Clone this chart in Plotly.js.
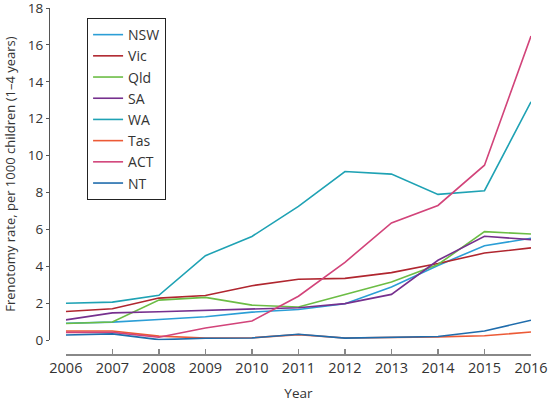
<!DOCTYPE html>
<html>
<head>
<meta charset="utf-8">
<script src="https://cdn.plot.ly/plotly-3.0.1.min.js"></script>
<style>html,body{margin:0;padding:0;background:#fff;}#chart{width:555px;height:402px;}</style>
</head>
<body>
<div id="chart"></div>
<script>
var years = [2006, 2007, 2008, 2009, 2010, 2011, 2012, 2013, 2014, 2015, 2016];
var seriesNames = ["NSW", "Vic", "Qld", "SA", "WA", "Tas", "ACT", "NT"];
var nsw = [0.92, 0.98, 1.12, 1.27, 1.52, 1.66, 1.97, 2.88, 4.05, 5.12, 5.52];
var vic = [1.55, 1.7, 2.28, 2.42, 2.95, 3.3, 3.35, 3.66, 4.15, 4.72, 5.0];
var qld = [0.9, 0.98, 2.17, 2.32, 1.9, 1.8, 2.48, 3.15, 4.1, 5.88, 5.75];
var sa = [1.1, 1.48, 1.54, 1.61, 1.67, 1.76, 1.98, 2.48, 4.33, 5.63, 5.45];
var wa = [2.0, 2.06, 2.43, 4.58, 5.62, 7.25, 9.14, 9.0, 7.9, 8.1, 12.92];
var tas = [0.5, 0.5, 0.22, 0.12, 0.13, 0.3, 0.12, 0.14, 0.18, 0.24, 0.44];
var act = [0.42, 0.42, 0.16, 0.66, 1.04, 2.38, 4.22, 6.35, 7.3, 9.48, 16.48];
var nt = [0.28, 0.34, 0.03, 0.1, 0.12, 0.32, 0.11, 0.14, 0.2, 0.5, 1.08];
var yTicks = [0, 2, 4, 6, 8, 10, 12, 14, 16, 18];
var colors = ["#2b9ed6", "#b0262f", "#6cbd45", "#76308e", "#1fa2b4", "#ec5a36", "#d2447a", "#1f6cac"];
var values = [nsw, vic, qld, sa, wa, tas, act, nt];

var traces = seriesNames.map(function (n, i) {
  return {
    x: years, y: values[i], name: n, type: "scatter", mode: "lines",
    line: {color: colors[i], width: 1.6}
  };
});

var font = "Open Sans, Lato, sans-serif";
var layout = {
  width: 555, height: 402,
  margin: {l: 49, r: 24, t: 8, b: 48},
  paper_bgcolor: "#fff", plot_bgcolor: "#fff",
  font: {family: font, size: 13, color: "#3a3a3a"},
  showlegend: true,
  legend: {
    x: 0.079, y: 0.971, xanchor: "left", yanchor: "top",
    bordercolor: "#222", borderwidth: 1, bgcolor: "#fff",
    font: {family: font, size: 14, color: "#333"}
  },
  xaxis: {
    range: [2006, 2016], domain: [0.035, 1], anchor: "free", position: 0,
    showline: true, linecolor: "#888", linewidth: 1.5,
    ticks: "inside", ticklen: 5, tickcolor: "#888", tickwidth: 1.2,
    dtick: 1, showgrid: false, zeroline: false,
    tickfont: {family: font, size: 14.5, color: "#333"},
    title: {text: "Year", font: {family: font, size: 13.5, color: "#333"}, standoff: 12}
  },
  yaxis: {
    range: [0, 18.0005], domain: [0.04, 1], anchor: "free", position: 0,
    showline: true, linecolor: "#555", linewidth: 1,
    ticks: "outside", ticklen: 3, tickcolor: "#555",
    tickmode: "array", tickvals: yTicks, ticktext: yTicks.map(String),
    showgrid: false, zeroline: false, ticklabeloverflow: "allow",
    tickfont: {family: font, size: 13.5, color: "#333"},
    title: {text: "Frenotomy rate, per 1000 children (1\u20134 years)", font: {family: font, size: 13, color: "#333"}, standoff: 8}
  }
};

Plotly.newPlot("chart", traces, layout, {displayModeBar: false, staticPlot: true});
</script>
</body>
</html>
